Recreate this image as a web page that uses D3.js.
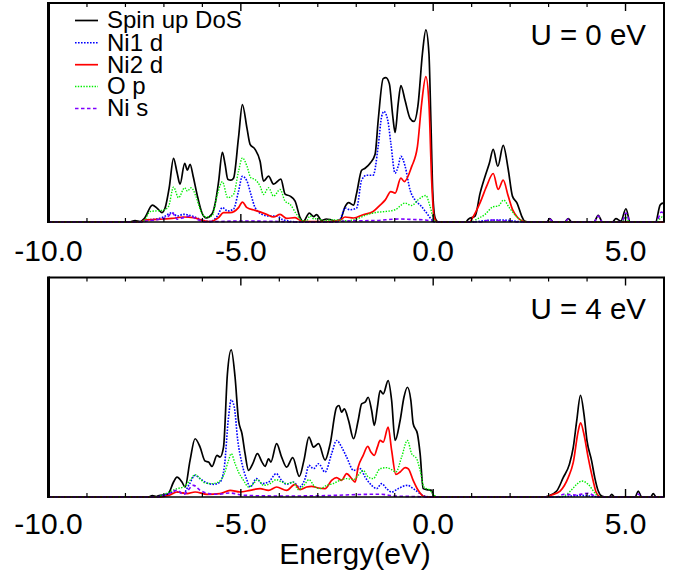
<!DOCTYPE html>
<html>
<head>
<meta charset="utf-8">
<script src="https://cdn.jsdelivr.net/npm/d3@7"></script>
<style>
  html, body { margin: 0; padding: 0; background: #fff; }
  svg { display: block; }
  text { font-family: "Liberation Sans", Arial, Helvetica, sans-serif; fill: #000; }
</style>
</head>
<body>
<svg id="chart" width="676" height="573"></svg>
<script>
// ---------------- DATA ----------------
const xTickLabels = ["-10.0", "-5.0", "0.0", "5.0"];
const xMajorTicks = [-10, -5, 0, 5];
const xMinorTicks = [-9, -8, -7, -6, -4, -3, -2, -1, 1, 2, 3, 4, 6];
const seriesNames = ["Spin up DoS", "Ni1 d", "Ni2 d", "O p", "Ni s"];
const panelLabels = ["U = 0 eV", "U = 4 eV"];
const xTitle = "Energy(eV)";

// U = 0 eV panel: [energy (eV), DOS]
const u0Total = [[-10,0],[-7.9,0],[-7.75,0.15],[-7.62,0.05],[-7.5,0.4],[-7.3,1.7],[-7.18,1.4],[-7.05,0.95],[-6.97,1.4],[-6.86,3.5],[-6.75,6.4],[-6.66,5.0],[-6.58,3.8],[-6.46,5.9],[-6.39,5.2],[-6.32,5.8],[-6.24,4.6],[-6.14,2.8],[-6.01,0.9],[-5.90,0.4],[-5.75,0.8],[-5.66,2.0],[-5.58,4.0],[-5.48,7.0],[-5.41,5.8],[-5.34,4.3],[-5.26,4.2],[-5.19,4.4],[-5.06,8.5],[-4.96,11.8],[-4.84,9.4],[-4.76,7.8],[-4.63,7.3],[-4.50,6.1],[-4.41,4.1],[-4.28,4.6],[-4.15,3.8],[-3.96,4.3],[-3.85,2.8],[-3.72,2.6],[-3.59,2.1],[-3.46,0.45],[-3.38,0.05],[-3.22,0.9],[-3.11,0.55],[-3.03,0.75],[-2.9,0.15],[-2.78,0.3],[-2.68,0.25],[-2.55,0.1],[-2.42,0.2],[-2.29,1.55],[-2.20,1.95],[-2.07,1.7],[-1.99,2.9],[-1.86,5.2],[-1.77,5.4],[-1.64,5.9],[-1.51,6.8],[-1.43,10.2],[-1.30,14.4],[-1.23,14.5],[-1.14,13.9],[-1.05,10.6],[-0.99,9.0],[-0.91,11.9],[-0.84,13.7],[-0.73,12.2],[-0.60,10.4],[-0.50,10.1],[-0.39,11.9],[-0.28,16.9],[-0.19,19.3],[-0.11,16.9],[-0.06,10.2],[-0.01,2.9],[0.05,0.4],[0.13,0],[0.85,0],[0.91,0.27],[1.09,0.6],[1.22,2.9],[1.35,4.6],[1.46,5.9],[1.56,7.3],[1.68,5.6],[1.82,7.7],[1.95,5.3],[2.06,2.6],[2.18,1.9],[2.30,0.6],[2.37,0.1],[2.5,0],[2.95,0],[3.03,0.33],[3.12,0],[3.42,0],[3.51,0.33],[3.6,0],[4.18,0],[4.29,0.67],[4.4,0],[4.66,0],[4.75,0.33],[4.88,0.1],[5.01,1.33],[5.12,0],[5.78,0],[5.9,1.7],[5.97,1.9],[6.0,1.8]];
const u0Ni1d = [[-10,0],[-7.6,0],[-7.49,0.2],[-7.2,0.3],[-7.01,0.5],[-6.88,0.8],[-6.79,0.95],[-6.66,0.6],[-6.49,0.77],[-6.27,0.6],[-6.01,0.2],[-5.80,0.05],[-5.61,0.6],[-5.48,1.45],[-5.34,1.1],[-5.19,1.3],[-5.06,3.1],[-4.96,4.6],[-4.84,4.1],[-4.74,2.8],[-4.63,1.45],[-4.45,0.77],[-4.28,0.6],[-4.07,0.6],[-3.93,0.27],[-3.75,0.1],[-3.5,0],[-2.6,0],[-2.42,0.3],[-2.29,1.4],[-2.16,1.23],[-1.99,1.4],[-1.86,4.2],[-1.73,4.7],[-1.56,4.7],[-1.43,7.6],[-1.34,10.6],[-1.28,11.1],[-1.18,10.2],[-1.10,7.9],[-0.99,4.9],[-0.91,5.6],[-0.84,6.6],[-0.73,5.6],[-0.60,3.2],[-0.47,2.2],[-0.34,1.7],[-0.17,0.9],[-0.04,0.23],[0.05,0],[1.0,0],[1.4,0.15],[1.8,0.2],[2.2,0.05],[2.4,0],[6,0]];
const u0Ni2d = [[-10,0],[-7.6,0],[-7.49,0.2],[-7.01,0.3],[-6.79,0.36],[-6.49,0.5],[-6.23,0.44],[-6.01,0.17],[-5.80,0.05],[-5.58,0.44],[-5.45,0.94],[-5.28,0.94],[-5.06,1.44],[-4.96,2.0],[-4.84,1.44],[-4.63,1.17],[-4.45,0.94],[-4.33,0.77],[-4.15,0.5],[-3.98,0.77],[-3.81,0.36],[-3.59,0.44],[-3.42,0.1],[-3.2,0.05],[-2.68,0.05],[-2.42,0.2],[-2.29,0.5],[-2.07,0.4],[-1.82,0.73],[-1.56,1.06],[-1.38,1.7],[-1.25,2.2],[-1.10,3.06],[-0.99,2.9],[-0.84,4.4],[-0.75,4.06],[-0.56,5.56],[-0.41,7.56],[-0.30,11.9],[-0.19,14.6],[-0.11,11.9],[-0.04,4.2],[0.02,0.56],[0.1,0],[0.95,0],[1.0,0.27],[1.22,1.94],[1.39,3.6],[1.56,4.87],[1.69,3.27],[1.82,4.2],[1.95,2.6],[2.06,1.27],[2.20,0.43],[2.32,0.1],[2.45,0],[6,0]];
const u0Op = [[-10,0],[-7.6,0],[-7.5,0.2],[-7.36,1.04],[-7.01,1.2],[-6.88,1.56],[-6.75,3.5],[-6.62,2.44],[-6.46,3.44],[-6.39,3.1],[-6.29,3.44],[-6.17,2.6],[-6.05,1.2],[-5.92,0.5],[-5.75,0.6],[-5.61,2.77],[-5.48,4.04],[-5.34,2.44],[-5.19,2.77],[-5.06,5.1],[-4.96,6.44],[-4.84,5.6],[-4.74,4.44],[-4.63,4.27],[-4.50,3.6],[-4.41,2.77],[-4.28,3.44],[-4.15,2.6],[-3.98,3.27],[-3.85,2.1],[-3.72,1.77],[-3.55,0.77],[-3.42,0.17],[-3.3,0.1],[-3.2,0.6],[-3.1,0.3],[-3.0,0.36],[-2.85,0.1],[-2.68,0.2],[-2.42,0.2],[-2.25,0.13],[-1.99,0.3],[-1.73,0.73],[-1.47,0.97],[-1.21,1.07],[-0.99,1.23],[-0.73,1.9],[-0.56,1.66],[-0.39,2.23],[-0.19,2.66],[-0.08,1.56],[0.02,0.23],[0.1,0],[1.0,0],[1.13,0.27],[1.35,0.77],[1.56,1.53],[1.69,1.6],[1.83,2.2],[1.98,1.43],[2.15,0.6],[2.32,0.1],[2.45,0],[4.9,0],[5.01,0.5],[5.1,0],[5.8,0],[5.95,0.5],[6,0.4]];
const u0Nis = [[-10,0],[-7.6,0],[-7.45,0.1],[-7.01,0.36],[-6.88,0.6],[-6.79,0.94],[-6.7,0.5],[-6.66,0.27],[-6.49,0.44],[-6.32,0.6],[-6.14,0.27],[-5.95,0.03],[-5.6,0.05],[-5.0,0.1],[-4.0,0.05],[-3.5,0],[-2.6,0],[-2.3,0.1],[-1.5,0.15],[-0.9,0.3],[-0.5,0.25],[-0.2,0.2],[0.0,0.05],[0.1,0],[1.2,0],[1.5,0.2],[1.9,0.1],[2.3,0],[2.95,0],[3.03,0.3],[3.12,0],[3.42,0],[3.51,0.3],[3.6,0],[4.18,0],[4.29,0.6],[4.4,0],[4.9,0],[5.01,0.9],[5.12,0],[5.8,0],[5.93,1.0],[6,0.8]];

// U = 4 eV panel: [energy (eV), DOS]
const u4Total = [[-10,0],[-7.4,0],[-7.3,0.15],[-7.2,0.05],[-7.10,0.17],[-6.95,0.2],[-6.88,0.34],[-6.75,1.5],[-6.66,2.0],[-6.53,1.5],[-6.45,1.0],[-6.32,3.67],[-6.19,5.84],[-6.06,5.0],[-5.93,3.6],[-5.84,3.5],[-5.75,3.06],[-5.62,4.17],[-5.54,4.0],[-5.45,5.0],[-5.35,12.3],[-5.25,14.74],[-5.15,12.0],[-5.06,7.67],[-4.97,6.34],[-4.89,4.34],[-4.80,2.67],[-4.69,3.34],[-4.57,4.34],[-4.45,3.5],[-4.37,3.06],[-4.28,3.83],[-4.22,3.5],[-4.07,5.34],[-3.94,4.0],[-3.81,3.0],[-3.65,3.94],[-3.48,2.06],[-3.36,3.67],[-3.23,6.0],[-3.11,5.0],[-2.98,5.34],[-2.81,3.7],[-2.68,5.3],[-2.51,9.0],[-2.45,9.17],[-2.38,8.5],[-2.31,8.84],[-2.20,7.67],[-2.07,5.84],[-1.95,7.67],[-1.86,9.34],[-1.77,9.5],[-1.69,10.0],[-1.60,8.67],[-1.53,7.17],[-1.45,9.0],[-1.38,10.67],[-1.30,10.34],[-1.17,11.67],[-1.08,9.67],[-0.99,5.67],[-0.86,7.67],[-0.76,10.0],[-0.67,11.0],[-0.58,9.67],[-0.52,7.34],[-0.41,6.34],[-0.34,4.34],[-0.26,0.84],[-0.17,0.74],[-0.04,0.67],[0.0,0.17],[0.1,0],[2.9,0],[2.99,0.1],[3.21,0.6],[3.38,1.94],[3.54,3.27],[3.64,4.94],[3.73,7.6],[3.83,10.2],[3.92,8.27],[4.00,5.6],[4.12,3.6],[4.20,1.94],[4.29,0.6],[4.38,0.1],[4.5,0],[4.58,0],[4.64,0.27],[4.72,0],[5.25,0],[5.33,0.6],[5.42,0],[5.65,0],[5.72,0.33],[5.8,0],[6,0]];
const u4Ni1d = [[-10,0],[-7.2,0],[-7.0,0.2],[-6.86,0.4],[-6.66,0.5],[-6.49,0.4],[-6.35,1.2],[-6.19,2.17],[-6.06,1.84],[-5.88,1.4],[-5.71,1.27],[-5.54,1.5],[-5.43,3.0],[-5.32,8.0],[-5.25,9.74],[-5.17,9.0],[-5.08,5.67],[-4.97,3.34],[-4.84,1.67],[-4.76,1.0],[-4.59,1.84],[-4.45,1.34],[-4.28,1.5],[-4.08,2.34],[-3.94,1.67],[-3.81,1.27],[-3.64,1.5],[-3.48,1.0],[-3.33,1.84],[-3.23,3.17],[-3.11,2.84],[-2.98,3.34],[-2.81,2.5],[-2.64,4.34],[-2.51,5.67],[-2.38,5.0],[-2.25,4.0],[-2.07,2.67],[-1.90,2.84],[-1.77,2.0],[-1.60,1.17],[-1.47,0.84],[-1.34,1.34],[-1.21,0.84],[-1.08,0.5],[-0.91,0.84],[-0.67,1.17],[-0.52,0.84],[-0.34,0.34],[-0.2,0.07],[0,0],[3.2,0],[3.6,0.1],[3.85,0.15],[4.2,0.05],[4.4,0],[6,0]];
const u4Ni2d = [[-10,0],[-7.1,0],[-6.86,0.17],[-6.66,0.5],[-6.40,0.34],[-6.19,0.5],[-5.88,0.27],[-5.54,0.34],[-5.28,0.67],[-5.02,0.5],[-4.76,0.67],[-4.50,0.84],[-4.28,0.67],[-4.07,1.0],[-3.81,0.67],[-3.59,1.27],[-3.46,0.74],[-3.29,1.0],[-3.16,1.07],[-2.98,0.9],[-2.81,0.84],[-2.64,1.67],[-2.51,1.94],[-2.38,1.67],[-2.25,2.34],[-2.12,1.84],[-2.03,1.5],[-1.95,3.0],[-1.82,4.17],[-1.70,5.07],[-1.62,4.5],[-1.53,4.17],[-1.45,5.0],[-1.38,5.67],[-1.30,5.5],[-1.17,7.0],[-1.08,4.67],[-0.97,2.27],[-0.86,2.5],[-0.73,2.94],[-0.65,2.84],[-0.52,1.67],[-0.39,0.67],[-0.25,0.07],[-0.1,0],[2.95,0],[3.08,0.2],[3.30,0.6],[3.51,1.94],[3.64,3.44],[3.77,6.6],[3.83,7.44],[3.92,6.27],[4.03,3.94],[4.16,1.6],[4.24,0.43],[4.35,0],[6,0]];
const u4Op = [[-10,0],[-7.2,0],[-7.01,0.24],[-6.86,0.5],[-6.66,0.84],[-6.49,1.0],[-6.32,1.67],[-6.19,2.24],[-6.06,1.84],[-5.93,1.4],[-5.75,1.34],[-5.58,1.5],[-5.43,2.34],[-5.32,3.67],[-5.25,4.34],[-5.15,3.34],[-5.06,2.5],[-4.93,1.67],[-4.80,1.0],[-4.67,1.34],[-4.57,1.74],[-4.41,1.17],[-4.24,1.34],[-4.08,1.74],[-3.94,1.5],[-3.77,1.34],[-3.65,1.5],[-3.50,0.74],[-3.36,1.17],[-3.23,1.74],[-3.07,1.0],[-2.94,0.84],[-2.77,1.17],[-2.60,1.34],[-2.42,1.67],[-2.25,1.84],[-2.07,1.74],[-1.95,2.17],[-1.82,2.67],[-1.69,2.0],[-1.56,1.84],[-1.38,2.84],[-1.21,2.94],[-1.08,2.74],[-0.97,2.5],[-0.82,4.0],[-0.67,5.67],[-0.56,4.34],[-0.43,3.84],[-0.34,2.67],[-0.24,1.0],[-0.08,0.67],[0.02,0.17],[0.15,0],[3.3,0],[3.4,0.1],[3.57,0.6],[3.73,1.27],[3.86,1.6],[4.03,1.27],[4.20,0.43],[4.32,0],[6,0]];
const u4Nis = [[-10,0],[-7.2,0],[-6.9,0.27],[-6.66,0.67],[-6.49,0.27],[-6.23,1.17],[-6.06,0.67],[-5.84,0.34],[-5.62,0.27],[-5.28,0.4],[-4.9,0.17],[-4.0,0.1],[-3.0,0.12],[-1.6,0.27],[-1.35,0.27],[-1.0,0.1],[-0.5,0.05],[0,0],[3.2,0],[3.4,0.27],[3.7,0.2],[4.03,0.37],[4.2,0.1],[4.35,0],[5.25,0],[5.33,0.3],[5.42,0],[6,0]];

const xDomain = [-10, 6];
const yDomain = [0, 22];

// ---------------- STYLES ----------------
const styles = [
  { color: "#000000", width: 1.7, dash: null },
  { color: "#0000ff", width: 1.6, dash: "1.6,1.4" },
  { color: "#ff0000", width: 1.7, dash: null },
  { color: "#00ee00", width: 1.4, dash: "1.4,1.4" },
  { color: "#7f00ff", width: 1.6, dash: "3.5,2.5" }
];

const panels = [
  { top: 3, bottom: 222, series: [u0Total, u0Ni1d, u0Ni2d, u0Op, u0Nis], label: panelLabels[0], labelY: 45, tickLabelY: 261, legend: true },
  { top: 277.5, bottom: 497, series: [u4Total, u4Ni1d, u4Ni2d, u4Op, u4Nis], label: panelLabels[1], labelY: 319, tickLabelY: 534, legend: false }
];

const svg = d3.select("#chart");
const left = 48.5, right = 664;
const x = d3.scaleLinear().domain(xDomain).range([left, right]);

panels.forEach((p, pi) => {
  const y = d3.scaleLinear().domain(yDomain).range([p.bottom, p.top]);
  const g = svg.append("g");
  const clipId = "clip" + pi;
  svg.append("clipPath").attr("id", clipId)
    .append("rect").attr("x", left).attr("y", p.top).attr("width", right - left).attr("height", p.bottom - p.top + 1);

  const line = d3.line().x(d => x(d[0])).y(d => y(Math.max(0, d[1]))).curve(d3.curveMonotoneX);
  const lg = g.append("g").attr("clip-path", `url(#${clipId})`);
  p.series.forEach((s, i) => {
    lg.append("path").datum(s)
      .attr("d", line)
      .attr("fill", "none")
      .attr("stroke", styles[i].color)
      .attr("stroke-width", styles[i].width)
      .attr("stroke-dasharray", styles[i].dash)
      .attr("stroke-linejoin", "round");
  });

  // ticks, inward on top and bottom
  const tg = g.append("g").attr("stroke", "#000");
  xMinorTicks.forEach(t => {
    tg.append("line").attr("x1", x(t)).attr("x2", x(t)).attr("y1", p.top).attr("y2", p.top + 4).attr("stroke-width", 1.2);
    tg.append("line").attr("x1", x(t)).attr("x2", x(t)).attr("y1", p.bottom).attr("y2", p.bottom - 4).attr("stroke-width", 1.2);
  });
  xMajorTicks.forEach(t => {
    tg.append("line").attr("x1", x(t)).attr("x2", x(t)).attr("y1", p.top).attr("y2", p.top + 8).attr("stroke-width", 1.4);
    tg.append("line").attr("x1", x(t)).attr("x2", x(t)).attr("y1", p.bottom).attr("y2", p.bottom - 8).attr("stroke-width", 1.4);
  });

  // frame
  g.append("line").attr("x1", left).attr("x2", right + 1).attr("y1", p.top).attr("y2", p.top).attr("stroke", "#000").attr("stroke-width", 2);
  g.append("line").attr("x1", left).attr("x2", right + 1).attr("y1", p.bottom).attr("y2", p.bottom).attr("stroke", "#000").attr("stroke-width", 1.6);
  g.append("line").attr("x1", right).attr("x2", right).attr("y1", p.top).attr("y2", p.bottom).attr("stroke", "#000").attr("stroke-width", 2);
  g.append("line").attr("x1", left).attr("x2", left).attr("y1", p.top - 1).attr("y2", p.bottom + 1).attr("stroke", "#000").attr("stroke-width", 3);

  // tick labels
  xMajorTicks.forEach((t, i) => {
    g.append("text").attr("x", x(t)).attr("y", p.tickLabelY).attr("text-anchor", "middle")
      .attr("font-size", 30).text(xTickLabels[i]);
  });

  // panel label
  g.append("text").attr("x", 646).attr("y", p.labelY).attr("text-anchor", "end").attr("font-size", 29.5).text(p.label);

  if (p.legend) {
    const lgd = g.append("g");
    const baseY = [28.3, 50.5, 72.5, 94.3, 116.3];
    seriesNames.forEach((n, i) => {
      lgd.append("line").attr("x1", 75).attr("x2", 98).attr("y1", baseY[i] - 7.8).attr("y2", baseY[i] - 7.8)
        .attr("stroke", styles[i].color).attr("stroke-width", styles[i].width).attr("stroke-dasharray", styles[i].dash);
      lgd.append("text").attr("x", 107).attr("y", baseY[i]).attr("font-size", 24).text(n);
    });
  }
});

svg.append("text").attr("x", 355).attr("y", 564).attr("text-anchor", "middle").attr("font-size", 30).text(xTitle);
</script>
</body>
</html>
